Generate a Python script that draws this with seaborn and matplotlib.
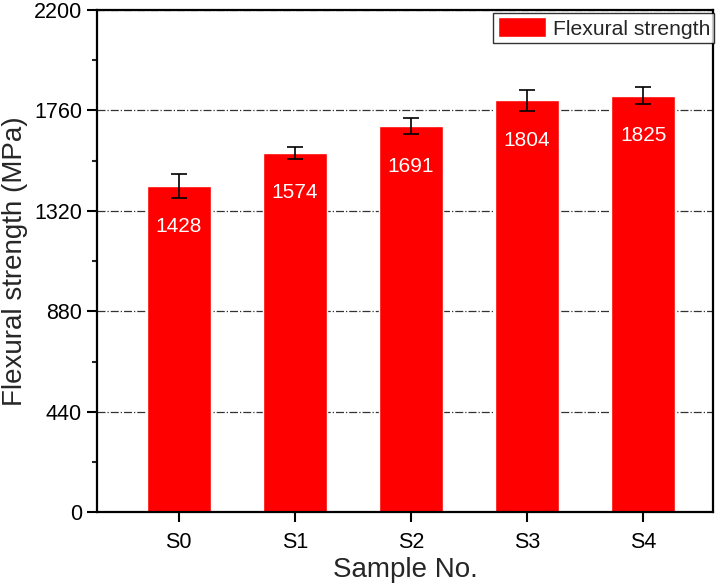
import matplotlib
matplotlib.use("Agg")
import matplotlib.pyplot as plt
import pandas as pd
import seaborn as sns
from matplotlib.ticker import MultipleLocator

samples = ["S0", "S1", "S2", "S3", "S4"]
strength = [1428, 1574, 1691, 1804, 1825]
errors = [53, 25, 35, 45, 37]

df = pd.DataFrame({"sample": samples, "strength": strength})

sns.set_style("ticks")
plt.rcParams["font.family"] = ["Liberation Sans", "DejaVu Sans"]

fig = plt.figure(figsize=(7.26, 5.86), dpi=100)
ax = fig.add_axes([0.134, 0.126, 0.848, 0.857])

sns.barplot(data=df, x="sample", y="strength", color="#ff0000", saturation=1,
            width=0.55, errorbar=None, ax=ax, label="Flexural strength", zorder=2)
ax.errorbar(range(len(samples)), strength, yerr=errors, fmt="none",
            ecolor="black", elinewidth=1.2, capsize=6, capthick=1.2, zorder=3)

for i, v in enumerate(strength):
    ax.text(i, v - 175, str(v), ha="center", va="center", color="white",
            fontsize=15, zorder=4)

ax.set_xlim(-0.7, 4.6)
ax.set_ylim(0, 2200)
ax.yaxis.set_major_locator(MultipleLocator(440))
ax.yaxis.set_minor_locator(MultipleLocator(220))
ax.grid(axis="y", which="major", linestyle="-.", color="#333333", linewidth=0.9, zorder=0)
ax.set_axisbelow(True)

for s in ax.spines.values():
    s.set_visible(True)
    s.set_linewidth(1.6)
    s.set_color("black")

ax.tick_params(axis="both", which="major", direction="out", length=7, width=1.5,
               labelsize=15.5, colors="black")
ax.tick_params(axis="x", which="major", pad=7)
ax.tick_params(axis="y", which="major", pad=4)
ax.tick_params(axis="y", which="minor", direction="out", length=3.5, width=1.5)

ax.set_xlabel("Sample No.", fontsize=20, labelpad=3)
ax.set_ylabel("Flexural strength (MPa)", fontsize=20, labelpad=4)

leg = ax.legend(loc="upper right", bbox_to_anchor=(1.002, 0.994), fontsize=15.2,
                frameon=True, fancybox=False, borderaxespad=0, handlelength=2.3,
                handleheight=1.1, borderpad=0.2, handletextpad=0.3)
leg.get_frame().set_edgecolor("black")
leg.get_frame().set_linewidth(1.0)

fig.savefig("out.png", dpi=100)
